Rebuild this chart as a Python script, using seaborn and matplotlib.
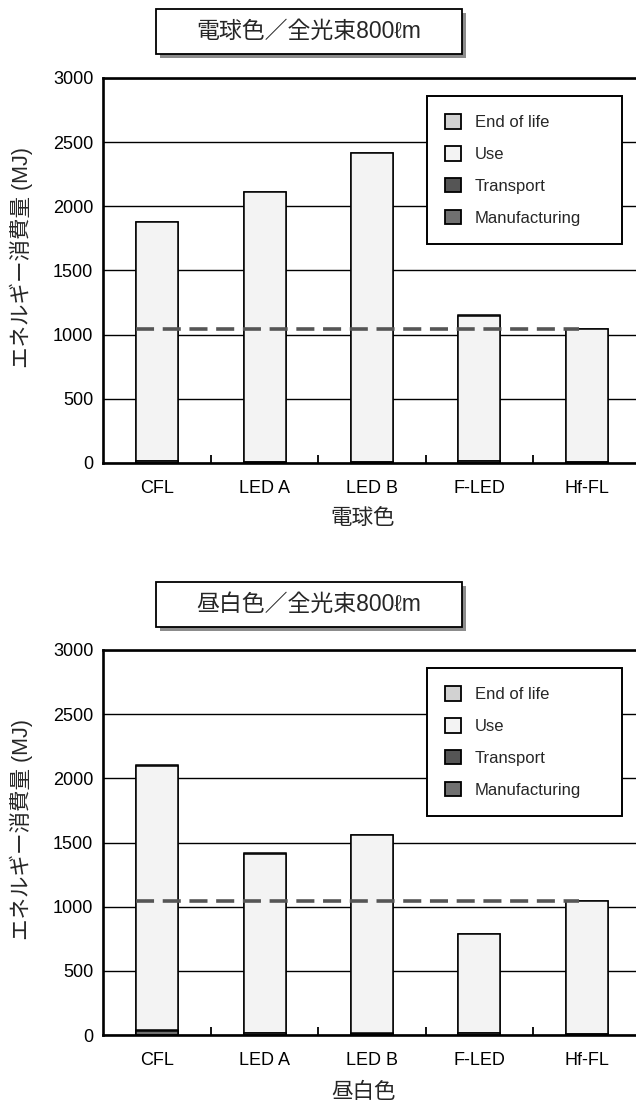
import matplotlib
matplotlib.use("Agg")
import matplotlib.pyplot as plt
import seaborn as sns
import pandas as pd
from matplotlib.patches import Patch, Rectangle

# ---------------- data ----------------
categories = ["CFL", "LED A", "LED B", "F-LED", "Hf-FL"]
stages = ["End of life", "Use", "Transport", "Manufacturing"]

warm_title = "電球色／全光束800ℓm"
warm_xlabel = "電球色"
warm_manufacturing = [16, 8, 8, 12, 4]
warm_transport = [3, 2, 2, 2, 1]
warm_use = [1858, 2099, 2404, 1135, 1042]
warm_end_of_life = [3, 1, 1, 1, 1]

day_title = "昼白色／全光束800ℓm"
day_xlabel = "昼白色"
day_manufacturing = [35, 12, 10, 15, 8]
day_transport = [6, 3, 3, 3, 2]
day_use = [2058, 1398, 1545, 767, 1036]
day_end_of_life = [5, 2, 2, 2, 2]

y_ticks = [0, 500, 1000, 1500, 2000, 2500, 3000]
ylabel = "エネルギー消費量 (MJ)"

colors = {"End of life": "#d2d2d2", "Use": "#f3f3f3",
          "Transport": "#555555", "Manufacturing": "#707070"}

# ---------------- style ----------------
sns.set_style("white")
plt.rcParams["font.family"] = ["Liberation Sans", "Noto Sans CJK JP", "DejaVu Sans"]

W, H = 636, 1104
fig = plt.figure(figsize=(W / 100, H / 100), dpi=100)

ax_left = 103 / W
ax_w = 1 - ax_left
ax_h = 385 / H
ax1 = fig.add_axes([ax_left, 1 - 463 / H, ax_w, ax_h])
ax2 = fig.add_axes([ax_left, 1 - 1035 / H, ax_w, ax_h])


def title_box(text, x0, y0, x1, y1):
    off = 4
    fig.patches.append(Rectangle(((x0 + off) / W, 1 - (y1 + off) / H),
                                 (x1 - x0) / W, (y1 - y0) / H,
                                 transform=fig.transFigure, facecolor="#8c8c8c",
                                 edgecolor="none", zorder=1))
    fig.patches.append(Rectangle((x0 / W, 1 - y1 / H), (x1 - x0) / W, (y1 - y0) / H,
                                 transform=fig.transFigure, facecolor="white",
                                 edgecolor="black", linewidth=1.3, zorder=2))
    fig.text((x0 + x1) / 2 / W, 1 - (y0 + y1) / 2 / H, text, ha="center", va="center",
             fontsize=16.5, zorder=3)


def draw(ax, mfg, trn, use, eol, xlabel, xlabel_y):
    df = pd.DataFrame({"category": categories, "Manufacturing": mfg,
                       "Transport": trn, "Use": use, "End of life": eol})
    bottom_up = ["Manufacturing", "Transport", "Use", "End of life"]
    cum = df[bottom_up].cumsum(axis=1)
    cum["category"] = df["category"]
    for stage in reversed(bottom_up):
        sns.barplot(data=cum, x="category", y=stage, order=categories,
                    color=colors[stage], saturation=1, edgecolor="black",
                    linewidth=1.1, width=0.39, errorbar=None, ax=ax, zorder=2)
    ref = cum["End of life"].iloc[-1]
    ax.hlines(ref, -0.2, 3.93, colors="#555555", linestyles=(0, (5, 2.4)),
              linewidth=2.6, zorder=5)

    ax.set_xlim(-0.506, 4.46)
    ax.set_ylim(0, 3000)
    ax.set_yticks(y_ticks)
    ax.yaxis.grid(True, color="black", linewidth=1.0)
    ax.xaxis.grid(False)
    ax.set_axisbelow(True)
    for s in ["left", "bottom", "top"]:
        ax.spines[s].set_visible(True)
        ax.spines[s].set_linewidth(1.9)
        ax.spines[s].set_color("black")
    ax.spines["right"].set_visible(False)
    ax.tick_params(axis="y", length=0, pad=7, labelsize=13, colors="black")
    ax.tick_params(axis="x", which="major", length=0, pad=12, labelsize=13, colors="black")
    ax.set_xticks([0.5, 1.5, 2.5, 3.5], minor=True)
    ax.tick_params(axis="x", which="minor", direction="in", length=5.5, width=1.3,
                   color="black", bottom=True)

    ax.set_ylabel(ylabel, fontsize=15.5)
    ax.yaxis.label.set_va("center")
    ax.yaxis.set_label_coords(-0.154, 0.535)
    ax.set_xlabel(xlabel, fontsize=15.5)
    ax.xaxis.label.set_va("center")
    ax.xaxis.set_label_coords(0.488, xlabel_y)

    handles = [Patch(facecolor=colors[s], edgecolor="black", linewidth=1.3, label=s)
               for s in stages]
    leg = ax.legend(handles=handles, loc="upper left",
                    bbox_to_anchor=(0.608, 0.953, 0.366, 0), mode="expand",
                    frameon=True, fancybox=False, edgecolor="black", framealpha=1,
                    prop={"family": "Liberation Sans", "size": 12},
                    handlelength=0.95, handleheight=0.95, handletextpad=0.8,
                    borderpad=1.1, labelspacing=0.95, borderaxespad=0)
    leg.get_frame().set_linewidth(1.4)


draw(ax1, warm_manufacturing, warm_transport, warm_use, warm_end_of_life,
     warm_xlabel, -0.145)
draw(ax2, day_manufacturing, day_transport, day_use, day_end_of_life,
     day_xlabel, -0.15)

title_box(warm_title, 156, 9, 462, 54)
title_box(day_title, 156, 582, 462, 627)

fig.savefig("out.png", dpi=100)
